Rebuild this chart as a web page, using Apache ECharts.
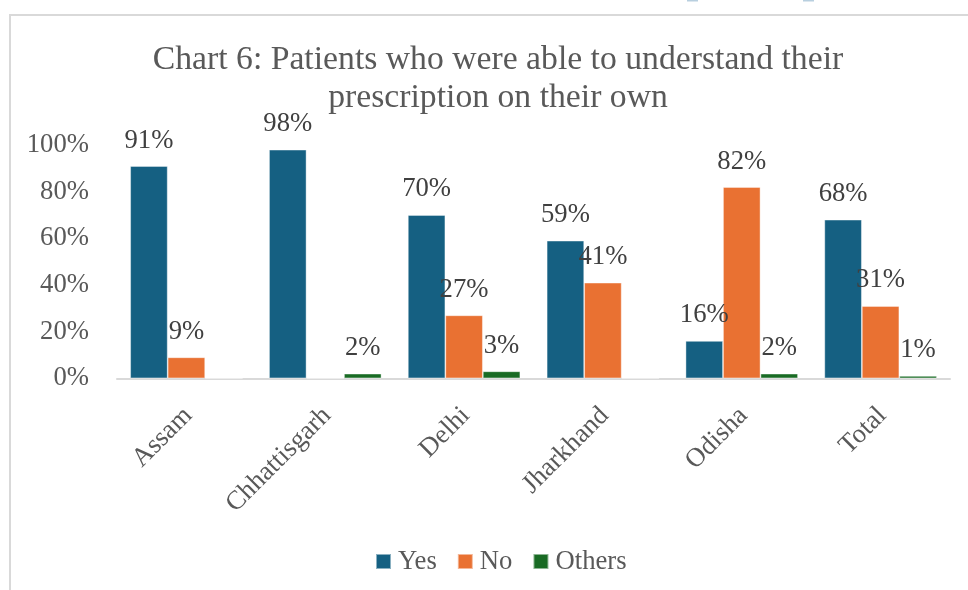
<!DOCTYPE html>
<html>
<head>
<meta charset="utf-8">
<script src="https://cdn.jsdelivr.net/npm/echarts@6/dist/echarts.min.js"></script>
<style>
html,body{margin:0;padding:0;background:#fff;}
#chart{width:968px;height:590px;}
</style>
</head>
<body>
<div id="chart"></div>
<script>
var categories = ['Assam', 'Chhattisgarh', 'Delhi', 'Jharkhand', 'Odisha', 'Total'];
var yesValues = [91, 98, 70, 59, 16, 68];
var noValues = [9, 0, 27, 41, 82, 31];
var othersValues = [0, 2, 3, 0, 2, 1];
var yTicks = [0, 20, 40, 60, 80, 100];

var FONT = "'Liberation Serif', 'Times New Roman', serif";
var chart = echarts.init(document.getElementById('chart'));

function labelCfg() {
  return {
    show: true,
    position: 'top',
    distance: 12,
    color: '#404040',
    fontFamily: FONT,
    fontSize: 26.7,
    formatter: function (p) { return p.value ? p.value + '%' : ''; }
  };
}
function mkSeries(name, data, color) {
  return {
    name: name,
    type: 'bar',
    data: data,
    barGap: '0%',
    barCategoryGap: '19%',
    itemStyle: { color: color, borderColor: 'rgba(255,255,255,0.5)', borderWidth: 0.8 },
    label: labelCfg(),
    z: 2
  };
}

chart.setOption({
  animation: false,
  backgroundColor: '#ffffff',
  title: {
    text: 'Chart 6: Patients who were able to understand their\nprescription on their own',
    left: 493,
    top: 36,
    textAlign: 'center',
    textStyle: {
      fontFamily: FONT,
      fontSize: 33.7,
      fontWeight: 'normal',
      color: '#595959',
      lineHeight: 38
    }
  },
  graphic: [
    { type: 'rect', shape: { x: 10, y: 15, width: 1100, height: 1000 }, style: { fill: 'none', stroke: '#d9d9d9', lineWidth: 2 }, silent: true, z: -10 },
    { type: 'rect', shape: { x: 687, y: 0, width: 11, height: 1.5 }, style: { fill: '#b8cfdf' }, silent: true },
    { type: 'rect', shape: { x: 803, y: 0, width: 11, height: 1.5 }, style: { fill: '#b8cfdf' }, silent: true }
  ],
  legend: {
    data: ['Yes', 'No', 'Others'],
    left: 370,
    top: 543,
    icon: 'rect',
    itemWidth: 15,
    itemHeight: 15,
    itemGap: 20,
    textStyle: { fontFamily: FONT, fontSize: 26.7, color: '#595959', padding: [0, 0, 0, 2] }
  },
  grid: { left: 117, right: 18, top: 145, bottom: 211.7, containLabel: false },
  xAxis: {
    type: 'category',
    data: categories,
    axisLine: { show: true, lineStyle: { color: '#d9d9d9', width: 2 } },
    axisTick: { show: false },
    axisLabel: {
      rotate: 45,
      interval: 0,
      margin: 16,
      verticalAlign: 'top',
      padding: [0, 11, 0, 0],
      fontFamily: FONT,
      fontSize: 26.7,
      color: '#595959'
    }
  },
  yAxis: {
    type: 'value',
    min: yTicks[0],
    max: yTicks[yTicks.length - 1],
    interval: 20,
    splitLine: { show: false },
    axisLine: { show: false },
    axisTick: { show: false },
    axisLabel: {
      margin: 28,
      formatter: '{value}%',
      fontFamily: FONT,
      fontSize: 26.7,
      color: '#595959'
    }
  },
  series: [
    mkSeries('Yes', yesValues, '#156082'),
    mkSeries('No', noValues, '#E97132'),
    mkSeries('Others', othersValues, '#196B24')
  ]
});
</script>
</body>
</html>
